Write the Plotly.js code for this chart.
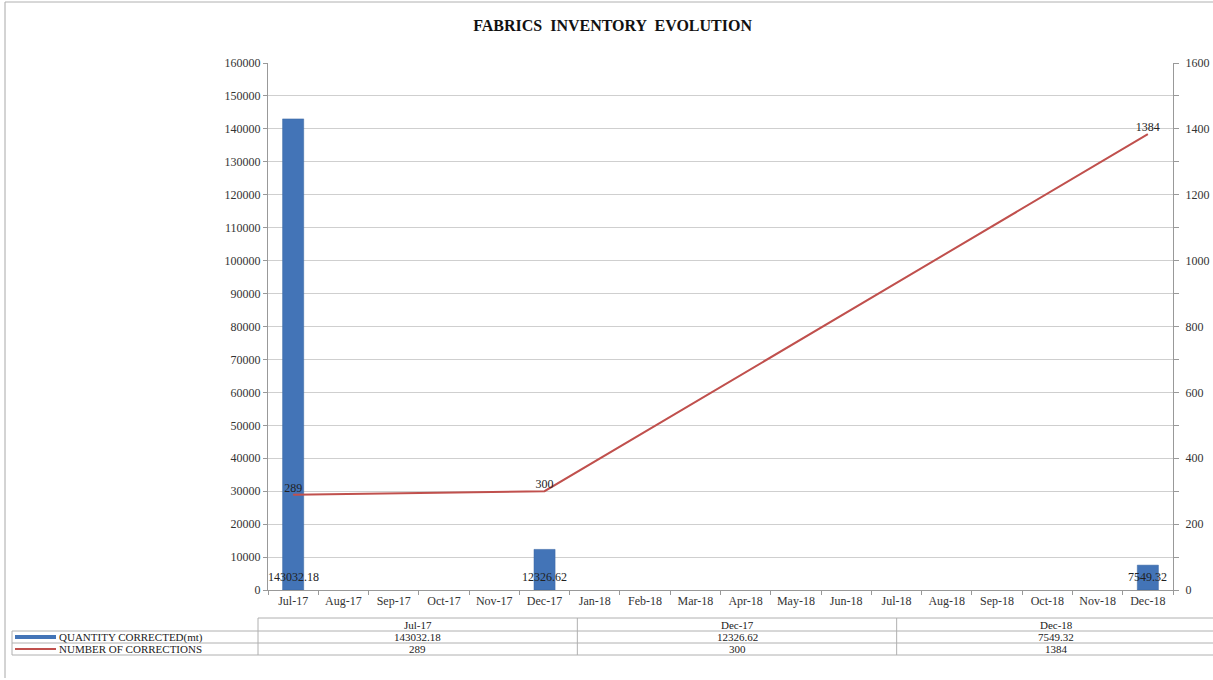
<!DOCTYPE html>
<html>
<head>
<meta charset="utf-8">
<script src="https://cdn.plot.ly/plotly-3.0.1.min.js"></script>
<style>html,body{margin:0;padding:0;background:#fff;}#chart{width:1213px;height:680px;}</style>
</head>
<body>
<div id="chart"></div>
<script>
const months = ['Jul-17','Aug-17','Sep-17','Oct-17','Nov-17','Dec-17','Jan-18','Feb-18','Mar-18','Apr-18','May-18','Jun-18','Jul-18','Aug-18','Sep-18','Oct-18','Nov-18','Dec-18'];
const quantityCorrected = [143032.18,null,null,null,null,12326.62,null,null,null,null,null,null,null,null,null,null,null,7549.32];
const numberOfCorrections = [289,null,null,null,null,300,null,null,null,null,null,null,null,null,null,null,null,1384];
const seriesNames = ['QUANTITY CORRECTED(mt)','NUMBER OF CORRECTIONS'];
const chartTitle = 'FABRICS  INVENTORY  EVOLUTION';

const W = 1213, H = 680;
const M = {l: 268, r: 40, t: 63, b: 90};
const PW = W - M.l - M.r, PH = H - M.t - M.b;
const px = v => (v - M.l) / PW;
const py = v => (H - M.b - v) / PH;

const FONT = 'Liberation Serif, Times New Roman, serif';
const BAR = '#4374B7';
const LINE = '#C0504D';
const GRID = '#cfcfcf';
const TABLE = '#b0b0b0';

const barTrace = {
  type: 'bar', x: months, y: quantityCorrected, name: seriesNames[0],
  marker: {color: BAR, line: {color: '#3a66a3', width: 0.5}},
  width: 0.42, hoverinfo: 'x+y'
};
const lineTrace = {
  type: 'scatter', mode: 'lines+text', x: months, y: numberOfCorrections, name: seriesNames[1],
  yaxis: 'y2', connectgaps: true,
  line: {color: LINE, width: 2},
  text: numberOfCorrections.map(v => v == null ? '' : String(v)),
  textposition: 'top center',
  textfont: {family: FONT, size: 12, color: '#222'},
  cliponaxis: false
};

const annotations = [];
// bar data labels at base
months.forEach((m, i) => {
  if (quantityCorrected[i] != null) {
    annotations.push({x: m, y: 0, xref: 'x', yref: 'y', text: String(quantityCorrected[i]),
      showarrow: false, yanchor: 'bottom', yshift: 4,
      font: {family: FONT, size: 12, color: '#222'}});
  }
});

// data table
const shapes = [];
const tIdx = months.map((m, i) => i).filter(i => quantityCorrected[i] != null);
const tLeft = 258, tRight = 1216, legLeft = 12;
const rowY = [618, 631, 643, 655];
const colW = (tRight - tLeft) / tIdx.length;
const hline = (x0, x1, y) => shapes.push({type: 'line', xref: 'paper', yref: 'paper', x0: px(x0), x1: px(x1), y0: py(y), y1: py(y), line: {color: TABLE, width: 1}});
const vline = (x, y0, y1, c) => shapes.push({type: 'line', xref: 'paper', yref: 'paper', x0: px(x), x1: px(x), y0: py(y0), y1: py(y1), line: {color: c || TABLE, width: 1}});
hline(tLeft, tRight, rowY[0]);
hline(legLeft, tRight, rowY[1]);
hline(legLeft, tRight, rowY[2]);
hline(legLeft, tRight, rowY[3]);
vline(legLeft, rowY[1], rowY[3]);
for (let k = 0; k <= tIdx.length; k++) vline(tLeft + k * colW, rowY[0], rowY[3]);
// chart border
vline(5, 2, 678, '#a8a8a8');
hline(5, 1213, 2);

const cellFont = {family: FONT, size: 11, color: '#222'};
tIdx.forEach((i, k) => {
  const cx = px(tLeft + (k + 0.5) * colW);
  [months[i], String(quantityCorrected[i]), String(numberOfCorrections[i])].forEach((t, r) => {
    annotations.push({xref: 'paper', yref: 'paper', x: cx, y: py((rowY[r] + rowY[r + 1]) / 2),
      text: t, showarrow: false, xanchor: 'center', yanchor: 'middle', font: cellFont});
  });
});
// legend keys in table
shapes.push({type: 'line', xref: 'paper', yref: 'paper', x0: px(15), x1: px(56), y0: py(637), y1: py(637), line: {color: BAR, width: 4}});
shapes.push({type: 'line', xref: 'paper', yref: 'paper', x0: px(15), x1: px(56), y0: py(649), y1: py(649), line: {color: LINE, width: 2}});
seriesNames.forEach((n, r) => {
  annotations.push({xref: 'paper', yref: 'paper', x: px(57), y: py((rowY[r + 1] + rowY[r + 2]) / 2),
    text: n, showarrow: false, xanchor: 'left', yanchor: 'middle', font: cellFont});
});

const layout = {
  width: W, height: H,
  margin: M,
  paper_bgcolor: '#fff', plot_bgcolor: '#fff',
  showlegend: false,
  title: {text: chartTitle, x: 0.505, xanchor: 'center', y: 0.962, yanchor: 'middle',
    font: {family: FONT, size: 16, color: '#111', weight: 'bold'}},
  font: {family: FONT, size: 12, color: '#333'},
  xaxis: {type: 'category', categoryorder: 'array', categoryarray: months,
    range: [-0.5, months.length - 0.5], autorange: false,
    showline: true, linecolor: '#999', linewidth: 1, showgrid: false,
    ticks: 'outside', ticklen: 4, tickcolor: '#999', tickson: 'boundaries',
    tickfont: {family: FONT, size: 12, color: '#333'}, tickangle: 0},
  yaxis: {range: [0, 160000], dtick: 10000, tickformat: 'd', showgrid: true, gridcolor: GRID, gridwidth: 1,
    showline: true, linecolor: '#999', ticks: 'outside', ticklen: 4, tickcolor: '#999',
    tickfont: {family: FONT, size: 12, color: '#333'}, zeroline: false},
  yaxis2: {range: [0, 1600], dtick: 200, tickformat: 'd', overlaying: 'y', side: 'right', showgrid: false,
    showline: true, linecolor: '#999', ticks: 'outside', ticklen: 5, tickcolor: '#999',
    minor: {dtick: 100, ticks: 'outside', ticklen: 5, tickcolor: '#999'},
    tickfont: {family: FONT, size: 12, color: '#333'}, zeroline: false, ticklabelstandoff: 4},
  shapes: shapes,
  annotations: annotations
};

Plotly.newPlot('chart', [barTrace, lineTrace], layout, {displayModeBar: false, staticPlot: true});
</script>
</body>
</html>
